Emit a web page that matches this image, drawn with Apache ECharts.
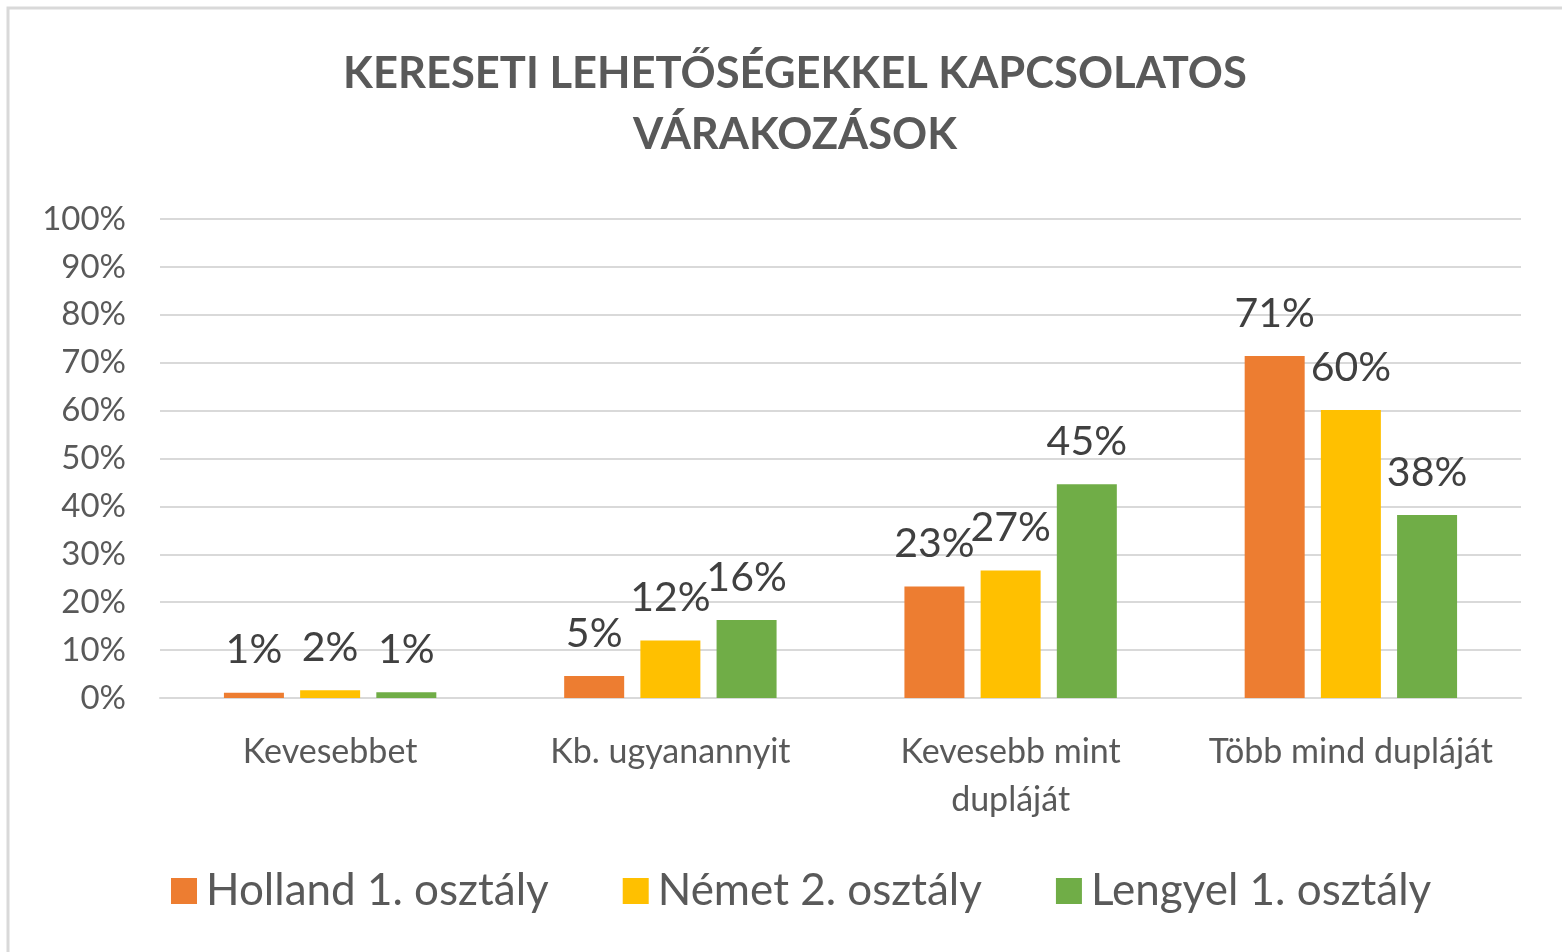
<!DOCTYPE html>
<html><head><meta charset="utf-8">
<script src="https://cdn.jsdelivr.net/npm/echarts@6/dist/echarts.min.js"></script>
<style>html,body{margin:0;padding:0;background:#fff}#c{width:1562px;height:952px}</style>
</head><body><div id="c"></div>
<script>
const categories = ['Kevesebbet', 'Kb. ugyanannyit', 'Kevesebb mint\ndupláját', 'Több mind dupláját'];
const seriesNames = ['Holland 1. osztály', 'Német 2. osztály', 'Lengyel 1. osztály'];
const holland = [1.1, 4.6, 23.3, 71.4];
const nemet = [1.6, 12.0, 26.6, 60.1];
const lengyel = [1.2, 16.3, 44.6, 38.2];
const yTicks = [0, 10, 20, 30, 40, 50, 60, 70, 80, 90, 100];
const colors = ['#ED7D31', '#FFC000', '#70AD47'];
const FONT = 'Lato';
const chart = echarts.init(document.getElementById('c'));
const mk = (name, data, color) => ({
  name, type: 'bar', data, barWidth: 60, barGap: '27%',
  itemStyle: { color },
  label: { show: true, position: 'top', distance: 22, fontFamily: FONT, fontSize: 41, color: '#404040',
    formatter: p => Math.round(p.value) + '%' }
});
chart.setOption({
  animation: false,
  textStyle: { fontFamily: FONT },
  graphic: [{ type: 'rect', shape: { x: 8, y: 8, width: 1600, height: 1000 }, style: { fill: 'none', stroke: '#d9d9d9', lineWidth: 3 }, silent: true }],
  title: {
    text: 'KERESETI LEHETŐSÉGEKKEL KAPCSOLATOS\nVÁRAKOZÁSOK', left: 790, top: 38, textAlign: 'center',
    textStyle: { fontFamily: FONT, fontSize: 43.5, fontWeight: 'bold', color: '#595959', lineHeight: 61 }
  },
  legend: {
    data: seriesNames, left: 166, top: 864, itemWidth: 26, itemHeight: 26, itemGap: 74,
    icon: 'rect', textStyle: { fontFamily: FONT, fontSize: 44, color: '#595959', padding: [0, 0, 0, 4] }
  },
  grid: { left: 160, right: 41, top: 219, bottom: 254, containLabel: false },
  xAxis: {
    type: 'category', data: categories,
    axisLine: { lineStyle: { color: '#d9d9d9', width: 2 } }, axisTick: { show: false },
    axisLabel: { fontFamily: FONT, fontSize: 34, color: '#595959', margin: 30, lineHeight: 48, interval: 0 }
  },
  yAxis: {
    type: 'value', min: yTicks[0], max: yTicks[yTicks.length - 1], interval: 10,
    axisLine: { show: false }, axisTick: { show: false },
    splitLine: { lineStyle: { color: '#d9d9d9', width: 2 } },
    axisLabel: { fontFamily: FONT, fontSize: 33, color: '#595959', margin: 34, formatter: v => v + '%' }
  },
  series: [mk(seriesNames[0], holland, colors[0]), mk(seriesNames[1], nemet, colors[1]), mk(seriesNames[2], lengyel, colors[2])]
});
</script></body></html>
